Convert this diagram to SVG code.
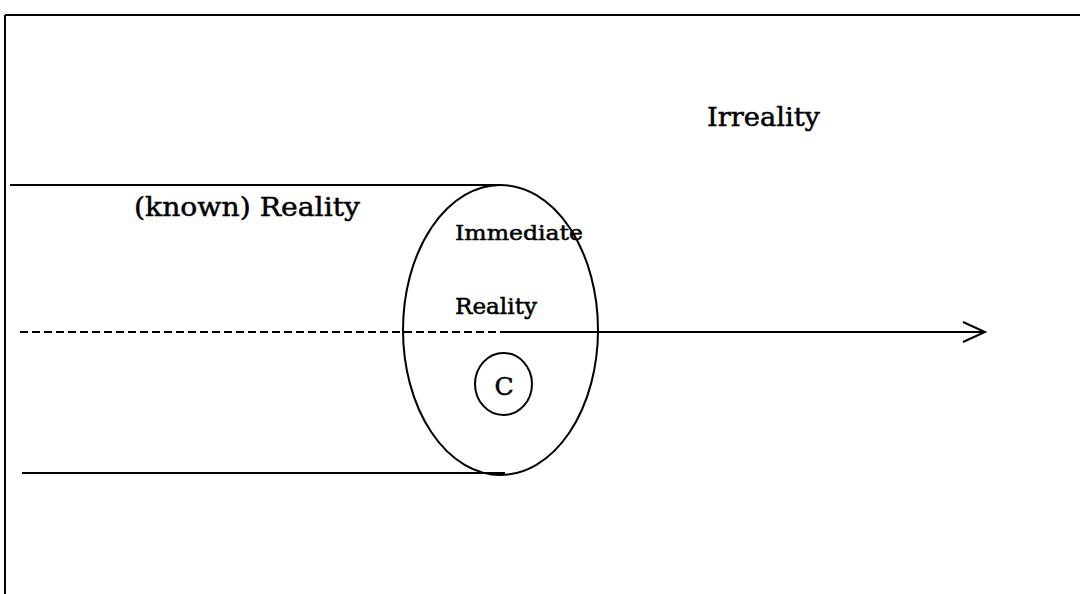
<svg xmlns="http://www.w3.org/2000/svg" width="1080" height="594" viewBox="0 0 1080 594">
<style>
.ln{stroke:#000;stroke-width:2;fill:none}
.t{font-family:"DejaVu Serif","Liberation Serif",serif;fill:#000;stroke:#000;stroke-width:0.5}
</style>
<rect width="1080" height="594" fill="#fff"/>
<g id="frame">
<path class="ln" d="M5,15 H1080 M5,15 V594" stroke-width="3"/>
</g>
<g id="connectors">
<line class="ln" x1="10" y1="185" x2="500" y2="185"/>
<line class="ln" x1="22" y1="473" x2="505" y2="473"/>
<line class="ln" x1="20" y1="332" x2="500" y2="332" stroke-dasharray="8,4"/>
<line class="ln" x1="500" y1="332" x2="985" y2="332"/>
<path class="ln" d="M963,322 L985,332 L963,342" stroke-width="2.5"/>
</g>
<g id="ellipse">
<ellipse class="ln" cx="500.5" cy="330" rx="97.5" ry="145"/>
</g>
<g id="c-node">
<ellipse class="ln" cx="503.5" cy="384" rx="28.5" ry="31" stroke-width="1.5"/>
<text class="t" x="504" y="395" font-size="25" text-anchor="middle">C</text>
</g>
<g id="labels">
<text class="t" x="707" y="126" font-size="26" textLength="113" lengthAdjust="spacingAndGlyphs">Irreality</text>
<text class="t" x="134" y="216" font-size="26" textLength="226" lengthAdjust="spacingAndGlyphs">(known) Reality</text>
<text class="t" x="455" y="240" font-size="20" textLength="128" lengthAdjust="spacingAndGlyphs">Immediate</text>
<text class="t" x="455" y="314" font-size="22" textLength="82" lengthAdjust="spacingAndGlyphs">Reality</text>
</g>
</svg>
